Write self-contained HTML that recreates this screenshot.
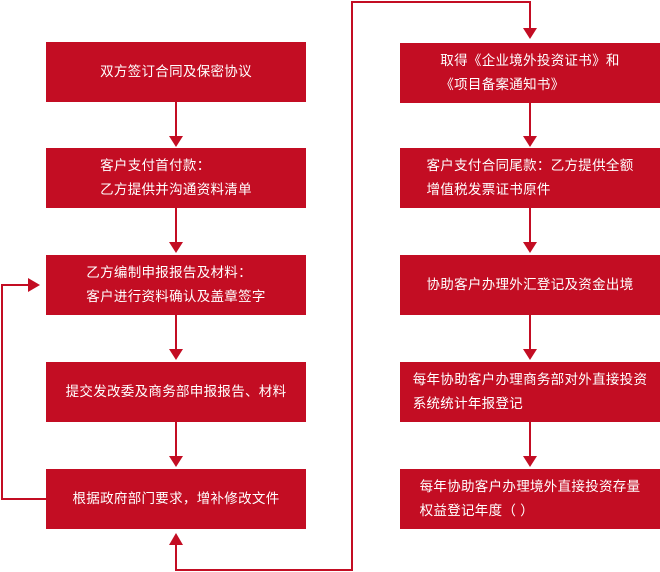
<!DOCTYPE html>
<html><head><meta charset="utf-8"><style>
body{margin:0;width:660px;height:572px;background:#fff;position:relative;overflow:hidden;font-family:"Liberation Sans","Noto Sans CJK SC",sans-serif;}
.b{position:absolute;width:260px;height:60px;background:#c30d23;color:#fff;font-size:13.5px;letter-spacing:0.3px;line-height:24px;display:flex;align-items:center;justify-content:center;}
.b span{display:inline-block;text-align:left;}
svg{position:absolute;left:0;top:0}
</style></head><body>
<svg width="660" height="572">
<g stroke="#c30d23" stroke-width="2" fill="none">
<line x1="176" y1="102" x2="176" y2="138"/>
<line x1="176" y1="208" x2="176" y2="244"/>
<line x1="176" y1="315" x2="176" y2="351"/>
<line x1="176" y1="422" x2="176" y2="458"/>
<polyline points="46,499 2,499 2,285 30,285"/>
<polyline points="176,543 176,570 352,570 352,2 530,2 530,29"/>
<line x1="530" y1="103" x2="530" y2="138"/>
<line x1="530" y1="208" x2="530" y2="244"/>
<line x1="530" y1="315" x2="530" y2="351"/>
<line x1="530" y1="422" x2="530" y2="458"/>
</g>
<g fill="#c30d23">
<polygon points="169,136 183,136 176,147"/>
<polygon points="169,242 183,242 176,253"/>
<polygon points="169,349 183,349 176,360"/>
<polygon points="169,456 183,456 176,467"/>
<polygon points="28,278 28,292 40,285"/>
<polygon points="169,545 183,545 176,533"/>
<polygon points="523,28 537,28 530,39"/>
<polygon points="523,136 537,136 530,147"/>
<polygon points="523,242 537,242 530,253"/>
<polygon points="523,349 537,349 530,360"/>
<polygon points="523,456 537,456 530,467"/>
</g>
</svg>
<div class="b" style="left:46px;top:42px"><span>双方签订合同及保密协议</span></div>
<div class="b" style="left:46px;top:148px"><span>客户支付首付款：<br>乙方提供并沟通资料清单</span></div>
<div class="b" style="left:46px;top:255px"><span>乙方编制申报报告及材料：<br>客户进行资料确认及盖章签字</span></div>
<div class="b" style="left:46px;top:362px"><span>提交发改委及商务部申报报告、材料</span></div>
<div class="b" style="left:46px;top:469px"><span>根据政府部门要求，增补修改文件</span></div>
<div class="b" style="left:400px;top:43px"><span>取得《企业境外投资证书》和<br>《项目备案通知书》</span></div>
<div class="b" style="left:400px;top:148px"><span>客户支付合同尾款：乙方提供全额<br>增值税发票证书原件</span></div>
<div class="b" style="left:400px;top:255px"><span>协助客户办理外汇登记及资金出境</span></div>
<div class="b" style="left:400px;top:362px"><span>每年协助客户办理商务部对外直接投资<br>系统统计年报登记</span></div>
<div class="b" style="left:400px;top:469px"><span>每年协助客户办理境外直接投资存量<br>权益登记年度（ ）</span></div>
</body></html>
